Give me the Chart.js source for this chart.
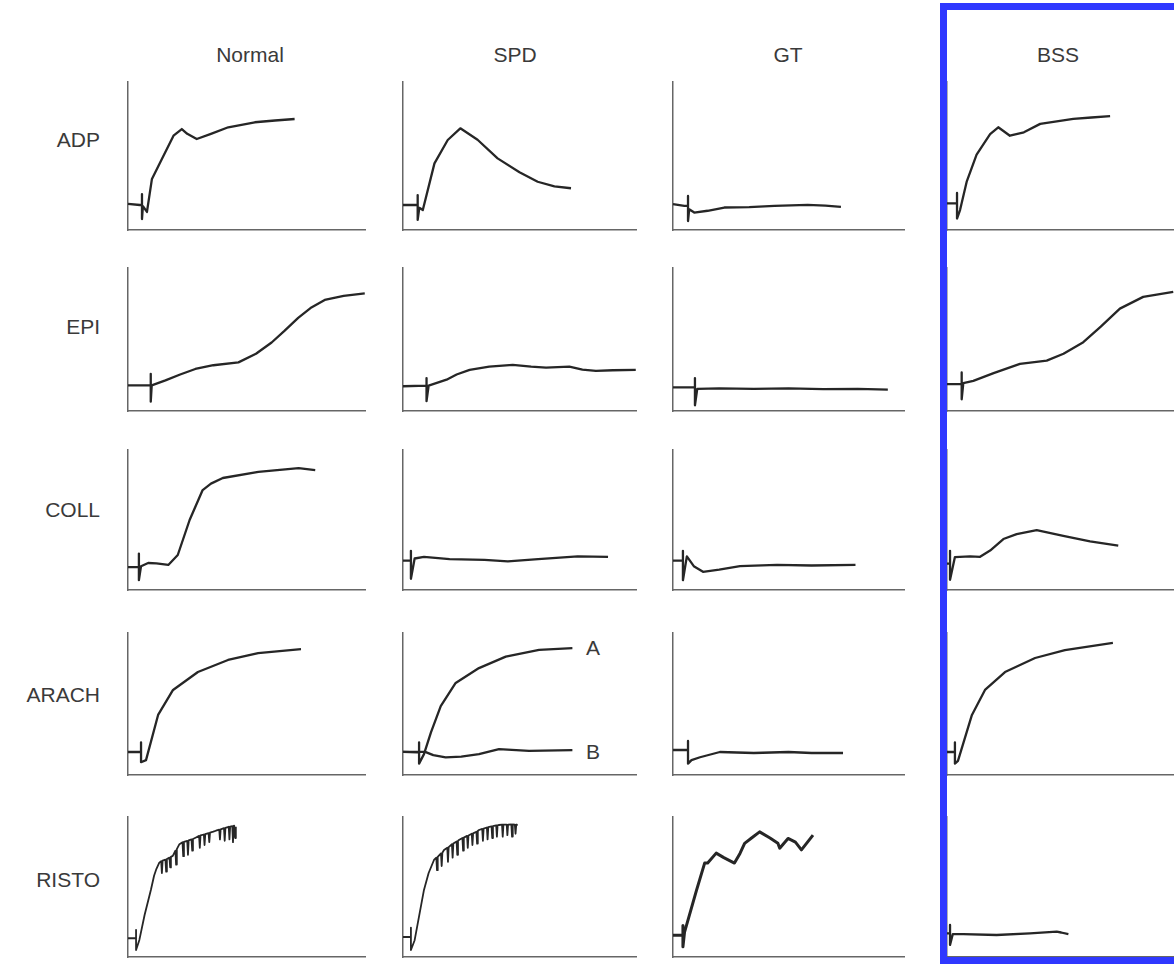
<!DOCTYPE html>
<html><head><meta charset="utf-8">
<script src="https://cdn.jsdelivr.net/npm/chart.js@4/dist/chart.umd.min.js"></script>
<style>
body{margin:0;background:#fff;width:1174px;height:965px;overflow:hidden;position:relative;font-family:"Liberation Sans",Arial,sans-serif;}
.lbl{position:absolute;color:#3a3a3a;font-size:21px;line-height:20px;white-space:nowrap;}
.col{transform:translateX(-50%);}
.row{transform:translateX(-100%);}
canvas{position:absolute;}
#box{position:absolute;left:940px;top:3px;width:300px;height:961px;border:7px solid #2f38ff;box-sizing:border-box;z-index:5;}
</style></head><body>
<div id="box"></div>
<script>
// ---- categories ----
const columns = ['Normal','SPD','GT','BSS'];
const rows = ['ADP','EPI','COLL','ARACH','RISTO'];
const curveLabels = ['A','B'];

// ---- traces: [time %, aggregation %] ----
const adpNormal = [[0,17.6],[5,16.9],[5.9,16.9],[5.9,24.3],[5.9,7.4],[6.3,16.2],[8,12.2],[10.1,34.5],[14.3,48],[19.2,63.7],[22.7,68.2],[25,65],[29,61.5],[35,65],[42.3,69.4],[53.5,72.8],[62,74],[70.3,75]];
const adpSPD = [[0,16.9],[6.3,16.9],[6.3,23.6],[6.3,6.8],[7,15],[8.5,13.5],[13.5,45],[19.2,60.8],[24.6,68.7],[32,61],[40.6,48.4],[50,39],[57.8,32.6],[65,29.5],[72.1,28.2]];
const adpGT = [[0,17.5],[4.9,16.3],[6.5,16.3],[6.5,23],[6.5,6],[7,14],[9.2,11.8],[15,13],[22.2,15.2],[33,15.5],[43.9,16.3],[58.3,17],[66,16.5],[72.7,15.6]];
const adpBSS = [[0,18],[3.4,18],[4.3,18],[4.3,25],[4.3,7.7],[5.6,13.5],[8.5,32.9],[12.7,51],[18.5,64.8],[22,69.4],[27,63.7],[33,66],[40,71.7],[54.2,75.1],[62,76],[70,76.9]];

const epiNormal = [[0,17.9],[8.8,17.9],[9.6,17.9],[9.6,26],[9.6,6.5],[10,17.9],[15.8,21.4],[22,25.5],[28.4,29.4],[36,32],[46.6,34],[54,40],[60.6,47.9],[66,56],[71.8,65.1],[77,72],[83,77.7],[91,80.5],[99.9,82.3]];
const epiSPD = [[0,17.3],[10.1,17.8],[10.1,23],[10.1,6.9],[11,17.8],[18.7,21.9],[23,25.5],[28.6,28.8],[37,31],[47.1,32.3],[55,31],[61.4,30.4],[71.4,31.1],[77,29],[82.8,28.1],[90,28.5],[99.9,28.8]];
const epiGT = [[0,16.5],[9.5,16.5],[9.5,23],[9.5,4],[10.5,15.5],[20,15.8],[35,15.5],[50,15.8],[65,15.3],[80,15.5],[93,15]];
const epiBSS = [[0,18.8],[6.3,18.8],[6.3,27],[6.3,8.2],[7,19.5],[11.3,21.1],[20,26.5],[31.3,32.9],[42.8,35.2],[50,40],[58.5,48.1],[66,59],[74.2,71.6],[84.2,79.8],[97.1,83.3]];

const collNormal = [[0,16.4],[3,16.4],[4.6,16.4],[4.6,26],[4.6,7],[5.5,17],[8.5,19.3],[12,19],[17,17.9],[21,25],[26,50],[31.5,71.4],[35,76],[40,80],[55,84.3],[72,87],[79,85.7]];
const collSPD = [[0,21],[3,21],[3.4,21],[3.4,28],[3.4,8],[5,22.5],[9,23.6],[20,22],[35,21.5],[45,20.5],[58,22],[75,24],[88,23.6]];
const collGT = [[0,21],[3.5,21],[4.3,21],[4.3,28],[4.3,7],[6,24],[9,17],[13,13],[20,14.5],[29,17],[45,18],[60,17.5],[79,18]];
const collBSS = [[0,18.8],[1.3,18.8],[1.3,28],[1.3,7.3],[3.4,23.5],[9.9,24],[14.2,23.7],[18.5,28.2],[24.2,36.4],[29.9,39.9],[38.5,42.7],[49.9,38.7],[61.4,34.7],[73.5,31.7]];

const arachNormal = [[0,16.2],[4.2,16.2],[5.5,16.2],[5.5,23],[5.5,9],[7.6,10.5],[12.7,42.3],[19,59.9],[29.5,72.5],[42.2,81],[54.9,85.9],[73,88.7]];
const arachSPD_A = [[0,16.3],[6.1,15.9],[6.9,15.9],[6.9,23],[6.9,8],[9,14.7],[12,30],[16.2,48.5],[22.6,64.8],[32.6,75.3],[44.1,83.4],[58.4,88.1],[72.7,89.3]];
const arachSPD_B = [[0,16.3],[9.5,16.3],[13,14],[18.3,12.4],[25,13],[32.6,14.7],[41.2,18.2],[54.1,17],[72.7,17.5]];
const arachGT = [[0,17.6],[5.5,17.6],[6.5,17.6],[6.5,24],[6.5,8],[8,10.5],[11.7,12.5],[20.3,16.2],[35,15.5],[50,16.2],[60,15.5],[73.6,15.5]];
const arachBSS = [[0,16.2],[3,16.2],[3.4,16.2],[3.4,23],[3.4,8],[4.7,10],[10.7,42.3],[16.3,59.9],[24.9,72.5],[37.8,82.4],[50.6,88],[71.2,93]];

const ristoNormal = [[0,13.4],[3.4,13.4],[3.4,19.4],[3.4,5],[4.8,12.2],[7,30],[9.7,48.2],[11,58],[12,63],[13.2,67.4],[14,68.5],[14.3,60],[14.6,68.8],[15.8,69.5],[16.1,61],[16.4,70],[17.5,71],[17.8,64],[18.1,71.5],[18.9,72.2],[20,76],[20.3,66],[20.6,77],[21.7,80.6],[23,82],[23.3,72],[23.6,82.3],[25,83],[25.3,73],[25.6,83.3],[26.8,84],[27.1,76],[27.4,84.3],[28.7,85.4],[30,86.5],[30.3,78],[30.6,86.8],[32,87.5],[32.3,80],[32.6,87.7],[34,88.5],[34.3,82],[34.6,88.8],[36,89.5],[37.1,90.2],[38.5,91],[38.8,84],[39.1,91.2],[40.5,92],[40.8,83],[41.1,92.2],[42.5,93],[42.8,84],[43.1,93.2],[44,93.5],[44.3,82],[44.6,93.7],[44.8,93.8],[45.2,85],[45.5,93]];
const ristoSPD = [[0,14.3],[3,14.3],[3.4,14.3],[3.4,21],[3.4,5],[5,12],[9,47.9],[11,60],[13.3,69.3],[14.3,71],[14.6,62],[14.9,71.5],[16.3,74],[16.6,65],[16.9,74.5],[17.6,76.4],[19,78],[19.3,68],[19.6,78.5],[21,80.5],[21.3,71],[21.6,81],[23,82.5],[23.3,73],[23.6,83],[24,83.6],[25.5,85],[25.8,76],[26.1,85.3],[27.5,86.5],[27.8,78],[28.1,86.8],[29.5,88],[29.8,80],[30.1,88.3],[31.5,89.5],[31.8,81],[32.1,90],[32.6,90.7],[34,91.5],[34.3,83],[34.6,91.7],[36,92.5],[36.3,84],[36.6,92.7],[38,93.3],[38.3,85],[38.6,93.5],[40,94],[40.3,86],[40.6,94.1],[41.2,94.3],[42.5,94.5],[42.8,86],[43.1,94.5],[44.5,94.6],[44.8,87],[45.1,94.6],[46.5,94.7],[46.8,86],[47.1,94.7],[48,94.6],[48.3,88],[48.6,94.5],[48.9,94.3]];
const ristoGT = [[0,15.5],[3.6,15.5],[4.3,15.5],[4.3,22.5],[4.3,7.3],[5,17.8],[10.1,47.2],[13.7,67.1],[15,67.1],[18.7,74.2],[22,71],[26.6,67.1],[29,74],[31,81.2],[34,85],[37.5,89.4],[42,85],[45.4,81.2],[46.2,77.7],[49.8,84.7],[53,82],[55.6,76.5],[60.6,87.1]];
const ristoBSS = [[0,16.9],[1.3,16.9],[1.3,22.9],[1.3,8.6],[2.5,16.4],[7,16.4],[21.3,15.7],[35.6,16.9],[47.1,18.1],[49,17.5],[52.1,16.4]];

const grid = [
  [[adpNormal],[adpSPD],[adpGT],[adpBSS]],
  [[epiNormal],[epiSPD],[epiGT],[epiBSS]],
  [[collNormal],[collSPD],[collGT],[collBSS]],
  [[arachNormal],[arachSPD_A, arachSPD_B],[arachGT],[arachBSS]],
  [[ristoNormal],[ristoSPD],[ristoGT],[ristoBSS]]
];

// ---- layout ----
const colX = [128, 403, 673, 947];
const colW = [237, 233, 231, 233];
const rowTop = [82, 268, 450, 633, 817];
const rowBottom = [230, 411, 590, 775, 957];
const colHeadX = [250, 515, 788, 1058];
const rowLabelY = [140, 327, 510, 695, 880];
const PAD = 10;

function addLabel(text, x, y, cls){
  const d = document.createElement('div');
  d.className = 'lbl ' + cls;
  d.textContent = text;
  d.style.left = x + 'px';
  d.style.top = (y - 10) + 'px';
  document.body.appendChild(d);
}
columns.forEach((t,i)=>addLabel(t, colHeadX[i], 55, 'col'));
rows.forEach((t,i)=>addLabel(t, 100, rowLabelY[i], 'row'));
addLabel(curveLabels[0], 586, 648, '');
addLabel(curveLabels[1], 586, 752, '');

const zeroFit = s => { if (s.isHorizontal()) s.height = 0; else s.width = 0; };

for (let r = 0; r < rows.length; r++) {
  for (let c = 0; c < columns.length; c++) {
    const w = colW[c], h = rowBottom[r] - rowTop[r];
    const cv = document.createElement('canvas');
    cv.width = w + 2*PAD; cv.height = h + 2*PAD;
    cv.style.left = (colX[c] - PAD) + 'px';
    cv.style.top = (rowTop[r] - PAD) + 'px';
    cv.style.width = cv.width + 'px'; cv.style.height = cv.height + 'px';
    document.body.appendChild(cv);
    const spiky = r === 4 && c < 2;
    const heavy = r === 4 && c === 2;
    new Chart(cv, {
      type: 'line',
      data: {
        datasets: grid[r][c].map(arr => ({
          data: arr.map(p => ({x: p[0], y: p[1]})),
          borderColor: '#262626',
          borderWidth: spiky ? 1.8 : (heavy ? 3 : 2.3),
          borderJoinStyle: 'round',
          pointRadius: 0,
          tension: 0,
          fill: false,
          clip: false
        }))
      },
      options: {
        responsive: false, animation: false, events: [],
        layout: {padding: PAD},
        plugins: {legend: {display: false}, tooltip: {enabled: false}},
        scales: {
          x: {type: 'linear', min: 0, max: 100,
              grid: {display: false, drawTicks: false, tickLength: 0},
              ticks: {display: false},
              border: {display: true, color: '#666', width: 1.5},
              afterFit: zeroFit},
          y: {type: 'linear', min: 0, max: 100,
              grid: {display: false, drawTicks: false, tickLength: 0},
              ticks: {display: false},
              border: {display: true, color: '#666', width: 1.5},
              afterFit: zeroFit}
        }
      }
    });
  }
}
</script>
</body></html>
